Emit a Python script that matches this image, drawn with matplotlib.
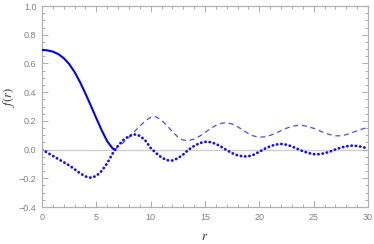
import numpy as np
import matplotlib
matplotlib.use('Agg')
from matplotlib import pyplot as plt
from matplotlib.ticker import MultipleLocator

plt.rcParams['mathtext.fontset'] = 'stix'

# values
r_solid = [0, 0.5, 1, 1.5, 2, 2.5, 3, 3.5, 4, 4.5, 5, 5.5, 6, 6.5, 6.7]
f_solid = [0.694, 0.691, 0.682, 0.665, 0.637, 0.596, 0.540, 0.470, 0.390,
           0.305, 0.218, 0.133, 0.058, 0.008, 0.0]

r_dot = [0, 0.5, 1, 1.5, 2, 2.5, 3, 3.5, 4, 4.5, 5, 5.5, 6, 6.5, 7, 7.5, 8,
         8.5, 9, 9.5, 10, 10.5, 11, 11.5, 12, 12.5, 13, 13.5, 14, 14.5, 15,
         15.5, 16, 16.5, 17, 17.5, 18, 18.5, 19, 19.5, 20, 20.5, 21, 21.5,
         22, 22.5, 23, 23.5, 24, 24.5, 25, 25.5, 26, 26.5, 27, 27.5, 28,
         28.5, 29, 29.5, 30]
f_dot = [0.0, -0.022, -0.044, -0.066, -0.088, -0.110, -0.137, -0.165, -0.187,
         -0.196, -0.184, -0.148, -0.095, -0.027, 0.027, 0.067, 0.094, 0.106,
         0.096, 0.064, 0.011, -0.025, -0.055, -0.074, -0.076, -0.061, -0.034,
         0.0, 0.025, 0.045, 0.054, 0.052, 0.040, 0.019, -0.004, -0.025,
         -0.040, -0.048, -0.047, -0.035, -0.015, 0.006, 0.023, 0.035, 0.039,
         0.034, 0.022, 0.005, -0.011, -0.024, -0.032, -0.032, -0.026, -0.014,
         0.001, 0.0135, 0.023, 0.027, 0.025, 0.018, 0.0065]

r_dash = [6.7, 7, 7.5, 8, 8.5, 9, 9.5, 10, 10.5, 11, 11.5, 12, 12.5, 13,
          13.5, 14, 14.5, 15, 15.5, 16, 16.5, 17, 17.5, 18, 18.5, 19, 19.5,
          20, 20.5, 21, 21.5, 22, 22.5, 23, 23.5, 24, 24.5, 25, 25.5, 26,
          26.5, 27, 27.5, 28, 28.5, 29, 29.5, 30]
f_dash = [0.0, 0.02, 0.05, 0.085, 0.125, 0.163, 0.200, 0.225, 0.228, 0.204,
          0.167, 0.125, 0.088, 0.066, 0.063, 0.073, 0.093, 0.119, 0.146,
          0.169, 0.183, 0.187, 0.178, 0.159, 0.135, 0.111, 0.094, 0.086,
          0.089, 0.099, 0.114, 0.132, 0.149, 0.162, 0.168, 0.168, 0.160,
          0.148, 0.132, 0.116, 0.104, 0.096, 0.096, 0.104, 0.117, 0.131,
          0.144, 0.155]

fig = plt.figure(figsize=(3.74, 2.44), dpi=100)
ax = fig.add_axes([0.1123, 0.1516, 0.8717, 0.8238])

ax.axhline(0, color='#cfcfcf', lw=1.0, zorder=1)
ax.plot(r_solid, f_solid, color='#0000ff', lw=1.5, solid_capstyle='round',
        solid_joinstyle='round', zorder=3)
ax.plot(r_dash, f_dash, color='#4a4aff', lw=0.9, dashes=(4, 3), zorder=2)
ax.plot(r_dot, f_dot, color='#1010ff', lw=2.0, linestyle=(0, (0.1, 1.45)),
        dash_capstyle='round', zorder=2)

ax.set_xlim(0, 30)
ax.set_ylim(-0.4, 1.0)
ax.xaxis.set_major_locator(MultipleLocator(5))
ax.xaxis.set_minor_locator(MultipleLocator(1))
ax.yaxis.set_minor_locator(MultipleLocator(0.05))
ax.set_yticks(np.arange(-0.4, 1.01, 0.2))
ax.set_yticklabels(['\u22120.4', '\u22120.2', '0.0', '0.2', '0.4', '0.6', '0.8', '1.0'])

for s in ax.spines.values():
    s.set_color('#b0b0b0')
    s.set_linewidth(0.9)
ax.tick_params(which='both', direction='in', top=True, right=True,
               colors='#a0a0a0', labelcolor='#808080', labelsize=6.5, width=0.6)
ax.tick_params(which='major', length=4, pad=4)
ax.tick_params(which='minor', length=2)
for lab in ax.get_xticklabels() + ax.get_yticklabels():
    lab.set_family('Liberation Sans')

fig.text(205 / 374, 1 - 237 / 244, '$r$', fontsize=9, color='#303030',
         ha='center', va='center')
fig.text(9 / 374, 1 - 97 / 244, '$f(r)$', fontsize=9, color='#303030',
         ha='center', va='center', rotation=90)

fig.savefig('out.png', dpi=100)
